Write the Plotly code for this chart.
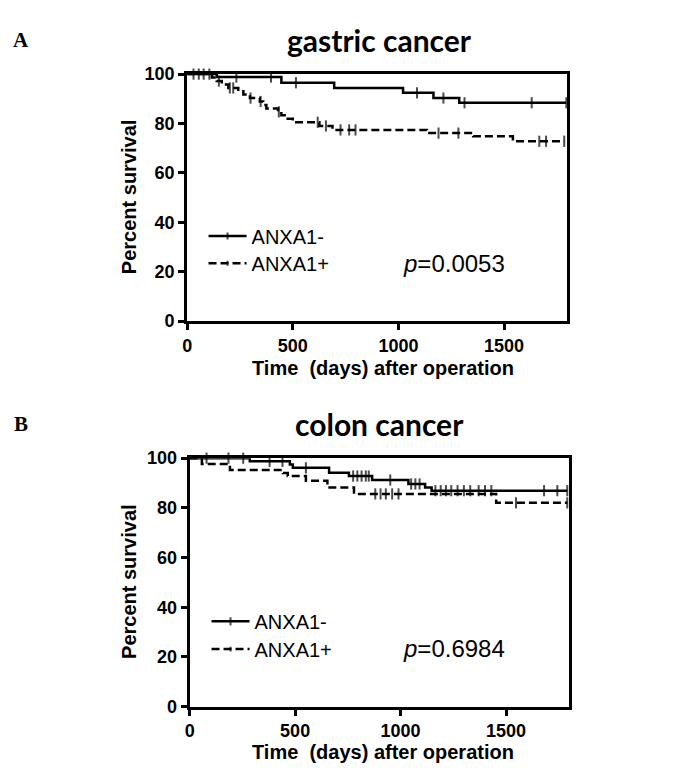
import plotly.graph_objects as go

# ---------------- data ----------------
# Panel A: gastric cancer
gastric_neg_event_days = [140, 446, 696, 1022, 1166, 1288]
gastric_neg_event_surv = [98.8, 96.5, 94.4, 92.4, 90.3, 88.4]
gastric_neg_censor_days = [30, 55, 78, 233, 397, 515, 1088, 1213, 1313, 1631, 1795]

gastric_pos_event_days = [117, 140, 164, 195, 242, 266, 297, 344, 360, 375, 430, 446, 469, 500,
                          626, 688, 1135, 1354, 1542]
gastric_pos_event_surv = [98.6, 97.2, 95.8, 94.4, 93.1, 91.7, 90.3, 88.9, 87.5, 86.1, 84.7, 83.3,
                          81.9, 80.5, 79.0, 77.4, 76.1, 74.8, 72.8]
gastric_pos_censor_days = [105, 150, 202, 218, 300, 348, 434, 618, 657, 726, 767, 797,
                           1190, 1284, 1667, 1699, 1785]

# Panel B: colon cancer
colon_neg_event_days = [285, 475, 489, 661, 755, 865, 1037, 1116, 1147]
colon_neg_event_surv = [98.7, 97.4, 96.1, 94.1, 92.8, 91.2, 89.6, 88.2, 86.9]
colon_neg_censor_days = [80, 184, 254, 379, 440, 551, 775, 795, 815, 835, 849, 951, 1050, 1070,
                         1090, 1165, 1190, 1215, 1240, 1270, 1300, 1330, 1370, 1400, 1430,
                         1680, 1743, 1790]

colon_pos_event_days = [58, 191, 442, 465, 551, 653, 779, 1453]
colon_pos_event_surv = [97.6, 95.2, 94.0, 92.8, 90.9, 88.2, 85.6, 82.0]
colon_pos_censor_days = [880, 905, 930, 960, 990, 1547, 1790]

x_ticks = [0, 500, 1000, 1500]
y_ticks = [0, 20, 40, 60, 80, 100]
group_labels = ["ANXA1-", "ANXA1+"]
panel_titles = ["gastric cancer", "colon cancer"]
panel_letters = ["A", "B"]
p_values = ["0.0053", "0.6984"]

W, H = 688, 776


def px(x):
    return x / W


def py(y):
    return 1 - y / H


def km_points(ev_t, ev_s, cens_t):
    pts = [(0, 100.0, False)]
    for t, s in zip(ev_t, ev_s):
        pts.append((t, s, False))
    for t in cens_t:
        lvl = 100.0
        for et, es in zip(ev_t, ev_s):
            if et <= t:
                lvl = es
        pts.append((t, lvl, True))
    pts.sort(key=lambda p: (p[0], not p[2]))
    return pts


fig = go.Figure()

FONT = "Liberation Sans, Arial, sans-serif"


def add_curve(ev_t, ev_s, cens_t, xa, ya, dash, name, legend):
    pts = km_points(ev_t, ev_s, cens_t)
    fig.add_trace(go.Scatter(
        x=[p[0] for p in pts], y=[p[1] for p in pts],
        mode="lines+markers", line=dict(color="black", width=2.5, shape="hv", dash=dash),
        marker=dict(symbol="line-ns-open", size=[8 if p[2] else 0 for p in pts],
                    color="black", line=dict(color="black", width=2)),
        name=name, xaxis=xa, yaxis=ya, legend=legend, cliponaxis=False,
    ))


add_curve(gastric_neg_event_days, gastric_neg_event_surv, gastric_neg_censor_days,
          "x", "y", "solid", group_labels[0], "legend")
add_curve(gastric_pos_event_days, gastric_pos_event_surv, gastric_pos_censor_days,
          "x", "y", "8px,4px", group_labels[1], "legend2")
add_curve(colon_neg_event_days, colon_neg_event_surv, colon_neg_censor_days,
          "x2", "y2", "solid", group_labels[0], "legend3")
add_curve(colon_pos_event_days, colon_pos_event_surv, colon_pos_censor_days,
          "x2", "y2", "8px,4px", group_labels[1], "legend4")

axis_common = dict(
    showgrid=False, zeroline=False, showline=True, linewidth=3, linecolor="black",
    mirror=True, ticks="outside", ticklen=6, tickwidth=3, tickcolor="black",
    tickfont=dict(family=FONT, size=18, color="black", weight="bold"),
)


def legend_at(x, y):
    return dict(x=px(x), y=py(y), xanchor="left", yanchor="middle",
                bgcolor="rgba(0,0,0,0)", font=dict(family=FONT, size=20, color="black"),
                tracegroupgap=0, itemwidth=38)


fig.update_layout(
    width=W, height=H, margin=dict(l=0, r=0, t=0, b=0),
    paper_bgcolor="white", plot_bgcolor="white",
    xaxis=dict(domain=[px(183.5), px(566.5)], range=[0, 1800], anchor="y",
               tickvals=x_ticks, **axis_common),
    yaxis=dict(domain=[py(319.3), py(65.8)], range=[0, 100], anchor="x",
               tickvals=y_ticks, **axis_common),
    xaxis2=dict(domain=[px(186), px(568.5)], range=[0, 1800], anchor="y2",
                tickvals=x_ticks, **axis_common),
    yaxis2=dict(domain=[py(715), py(460)], range=[0, 100], anchor="x2",
                tickvals=y_ticks, **axis_common),
    legend=legend_at(200, 232),
    legend2=legend_at(200, 260),
    legend3=legend_at(203, 627.5),
    legend4=legend_at(203, 656),
    showlegend=True,
)

ann = []
title_y = [30.5, 424.5]
letter_y = [31, 425]
ytitle_y = [192, 587]
xtitle_y = [367.5, 762]
p_y = [260, 655]
for i in range(2):
    ann.append(dict(text=panel_titles[i], x=px(377), y=py(title_y[i]), xref="paper", yref="paper",
                    showarrow=False, xanchor="center", yanchor="middle",
                    font=dict(family="Lato, Open Sans, sans-serif", size=30, color="black",
                              weight="bold")))
    ann.append(dict(text=panel_letters[i], x=px(16), y=py(letter_y[i]), xref="paper", yref="paper",
                    showarrow=False, xanchor="center", yanchor="middle",
                    font=dict(family="Liberation Serif, Times New Roman, serif", size=21,
                              color="black", weight="bold")))
    ann.append(dict(text="Percent survival", x=px(125), y=py(ytitle_y[i]), xref="paper",
                    yref="paper", showarrow=False, textangle=-90, xanchor="center",
                    yanchor="middle",
                    font=dict(family=FONT, size=20, color="black", weight="bold")))
    ann.append(dict(text="Time\u00a0 (days) after operation", x=px(381), y=py(xtitle_y[i]),
                    xref="paper", yref="paper", showarrow=False, xanchor="center",
                    yanchor="middle",
                    font=dict(family=FONT, size=20, color="black", weight="bold")))
    ann.append(dict(text="<i>p</i>=" + p_values[i], x=px(452), y=py(p_y[i]), xref="paper",
                    yref="paper", showarrow=False, xanchor="center", yanchor="middle",
                    font=dict(family=FONT, size=24, color="black")))
fig.update_layout(annotations=ann)

pin_script = (
    "document.documentElement.style.margin='0';"
    "document.body.style.margin='0';"
    "var gd=document.getElementById('{plot_id}');"
    "gd.style.position='fixed';gd.style.left='0px';gd.style.top='0px';"
)
fig.write_html("out.html", config={"displayModeBar": False}, post_script=pin_script)
